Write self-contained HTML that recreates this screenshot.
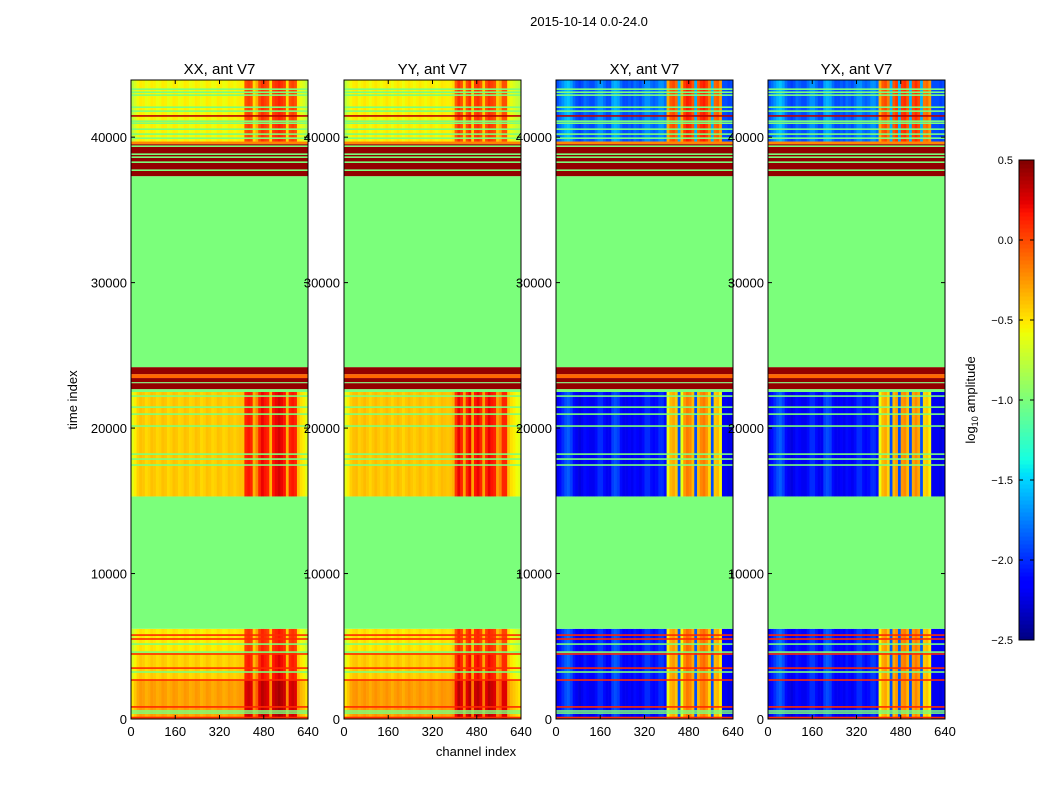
<!DOCTYPE html>
<html><head><meta charset="utf-8"><style>
body{margin:0;background:#fff;}
svg text{font-family:"Liberation Sans",sans-serif;}
</style></head><body>
<svg id="fig" width="1050" height="800" xmlns="http://www.w3.org/2000/svg">
<rect width="1050" height="800" fill="#fff"/>
<text x="589" y="26" font-size="13" text-anchor="middle">2015-10-14 0.0-24.0</text>
<text transform="translate(77,400) rotate(-90)" font-size="13" text-anchor="middle">time index</text>
<text x="476" y="756" font-size="13" text-anchor="middle">channel index</text>
<g id="panels"></g>
<g id="cbar"></g>
<text transform="translate(975,400) rotate(-90)" font-size="13" text-anchor="middle">log<tspan font-size="9" dy="3">10</tspan><tspan dy="-3"> amplitude</tspan></text>
</svg>
<script>
const panelTitles=["XX, ant V7","YY, ant V7","XY, ant V7","YX, ant V7"];
const panelKinds=["par","par","cross","cross"];
const xTicks=[0,160,320,480,640];
const yTicks=[0,10000,20000,30000,40000];
const cbTicks=[0.5,0.0,-0.5,-1.0,-1.5,-2.0,-2.5];
// channel profiles: 64 groups of 10 channels (log10 amplitude)
const profXX=[-0.65,-0.55,-0.45,-0.4,-0.42,-0.48,-0.45,-0.4,-0.42,-0.47,-0.45,-0.4,-0.42,-0.48,-0.45,-0.4,-0.42,-0.47,-0.45,-0.4,-0.42,-0.47,-0.45,-0.4,-0.42,-0.48,-0.45,-0.4,-0.42,-0.47,-0.45,-0.4,-0.42,-0.47,-0.45,-0.4,-0.42,-0.45,-0.42,-0.4,-0.4,0.1,0.15,0.1,-0.35,-0.2,0.1,0.2,0.15,0.1,-0.35,0.15,0.2,0.25,0.2,0.15,-0.35,0.1,0.15,0.1,-0.4,-0.5,-0.55,-0.65];
const profYY=[-0.65,-0.55,-0.45,-0.4,-0.38,-0.45,-0.42,-0.38,-0.42,-0.47,-0.42,-0.38,-0.42,-0.45,-0.42,-0.38,-0.42,-0.47,-0.42,-0.38,-0.42,-0.47,-0.42,-0.38,-0.42,-0.45,-0.42,-0.38,-0.42,-0.45,-0.42,-0.38,-0.42,-0.45,-0.42,-0.38,-0.4,-0.42,-0.4,-0.35,0.05,0.2,0.1,-0.3,0.1,0.2,-0.3,0.15,0.2,0.1,-0.3,0.1,0.2,0.15,0.1,-0.3,-0.2,0.1,0.1,-0.4,-0.5,-0.55,-0.6,-0.65];
const profXY=[-2.2,-2.1,-2.0,-1.9,-1.85,-1.95,-2.1,-2.2,-2.25,-2.2,-2.1,-2.15,-2.2,-2.2,-2.1,-2.0,-2.0,-2.1,-2.2,-2.2,-1.95,-1.9,-1.95,-2.1,-2.2,-2.2,-2.15,-2.2,-2.1,-2.15,-2.2,-2.1,-2.0,-2.0,-2.1,-2.15,-2.1,-2.0,-2.0,-2.1,-0.6,-0.35,-0.3,-0.4,-1.9,-0.6,-0.25,-0.15,-0.2,-0.35,-1.9,-0.35,-0.2,-0.15,-0.25,-0.45,-1.9,-0.4,-0.35,-0.55,-2.2,-2.2,-2.25,-2.2];
const profYX=[-2.2,-2.1,-2.0,-1.9,-1.85,-1.95,-2.1,-2.2,-2.25,-2.2,-2.1,-2.15,-2.2,-2.2,-2.1,-2.0,-2.0,-2.1,-2.2,-2.2,-1.95,-1.9,-1.95,-2.1,-2.2,-2.2,-2.15,-2.2,-2.1,-2.15,-2.2,-2.1,-2.0,-2.0,-2.1,-2.15,-2.1,-2.0,-2.0,-2.1,-0.6,-0.35,-0.3,-0.45,-1.9,-0.35,-0.25,-1.9,-0.25,-0.2,-0.35,-1.9,-0.3,-0.2,-0.3,-1.9,-0.45,-0.4,-0.55,-2.2,-2.2,-2.2,-2.25,-2.2];
const profiles=[profXX,profYY,profXY,profYX];
// time bands
const bandStart=[0,2700,4470,6200,15300,22480,22680,23090,23160,23440,23710,24190,37320,39520,39700];
const bandEnd=[2700,4470,6200,15300,22480,22680,23090,23160,23440,23710,24190,37320,39520,39700,43930];
const bandType=["D","D","D","U","D","U","U","U","U","U","U","U","U","U","D"];
const bandLevel=[0,0,0,-1.0,0,-1.0,0.45,-1.0,0.45,-0.1,0.45,-1.0,0.45,-0.2,0];
const bandOffPar=[0.15,0.0,-0.08,0,0.02,0,0,0,0,0,0,0,0,0,-0.12];
const bandOffCross=[0.0,0.05,0.05,0,0.0,0,0,0,0,0,0,0,0,0,0.3];
// horizontal line overlays
const lineTimes=[410,550,3230,4600,5150,17460,17870,18210,20140,20960,21440,22200,37730,38280,38625,38830,39380,39930,40210,40550,40960,41100,41790,42060,42890,43090,43300,100,830,2680,3500,4470,5500,5770,41460];
const lineValues=[-1,-1,-1,-1,-1,-1,-1,-1,-1,-1,-1,-1,-1,-1,-1,-1,-1,-1,-1,-1,-1,-1,-1,-1,-1,-1,-1,0.1,0.1,0.1,0.1,0.1,0.1,0.1,0.35];

const NS="http://www.w3.org/2000/svg";
const panelX=[131,344,556,768], PW=177, PTOP=80, PBOT=719, TMAX=43930, CMAX=640, VMIN=-2.5, VMAX=0.5;
function yOf(t){return PBOT-(t/TMAX)*(PBOT-PTOP);}
function xOf(p,c){return panelX[p]+c/CMAX*PW;}
function interp(pts,v){for(let i=1;i<pts.length;i++){if(v<=pts[i][0]){const a=pts[i-1],b=pts[i];return a[1]+(b[1]-a[1])*(v-a[0])/(b[0]-a[0]);}}return pts[pts.length-1][1];}
function jet(val){let v=(val-VMIN)/(VMAX-VMIN);v=Math.max(0,Math.min(1,v));
const r=interp([[0,0],[0.35,0],[0.66,1],[0.89,1],[1,0.5]],v);
const g=interp([[0,0],[0.125,0],[0.375,1],[0.64,1],[0.91,0],[1,0]],v);
const b=interp([[0,0.5],[0.11,1],[0.34,1],[0.65,0],[1,0]],v);
return `rgb(${Math.round(r*255)},${Math.round(g*255)},${Math.round(b*255)})`;}
function mk(tag,attrs,parent){const e=document.createElementNS(NS,tag);for(const k in attrs)e.setAttribute(k,attrs[k]);parent.appendChild(e);return e;}
const root=document.getElementById('panels');
for(let p=0;p<4;p++){
  const g=mk('g',{},root);
  
  
  const prof=profiles[p], cross=panelKinds[p]==="cross";
  for(let b=0;b<bandStart.length;b++){
    const y1=yOf(bandEnd[b]), y2=yOf(bandStart[b]);
    if(bandType[b]==="U"){
      const r=mk('rect',{x:panelX[p],y:y1,width:PW,height:y2-y1,fill:jet(bandLevel[b])},g);
      
      
    } else {
      const off=cross?bandOffCross[b]:bandOffPar[b];
      for(let c=0;c<prof.length;c++){
        const x1=xOf(p,c*10), x2=xOf(p,(c+1)*10);
        const r=mk('rect',{x:x1,y:y1,width:x2-x1+0.3,height:y2-y1,fill:jet(prof[c]+off)},g);
        
        
      }
    }
  }
  for(let i=0;i<lineTimes.length;i++){
    const y=yOf(lineTimes[i]);
    const r=mk('rect',{x:panelX[p],y:y-0.8,width:PW,height:1.6,fill:jet(lineValues[i])},g);
    
    
  }
  const fr=mk('rect',{x:panelX[p],y:PTOP,width:PW,height:PBOT-PTOP,fill:'none',stroke:'#000','stroke-width':1},g);
  
  
  const tt=mk('text',{x:panelX[p]+PW/2,y:74,'font-size':15,'text-anchor':'middle'},g);
  tt.textContent=panelTitles[p];
  
  
  for(const t of xTicks){const x=xOf(p,t);
    mk('line',{x1:x,x2:x,y1:PBOT,y2:PBOT-4,stroke:'#000'},g);
    mk('line',{x1:x,x2:x,y1:PTOP,y2:PTOP+4,stroke:'#000'},g);
    const l=mk('text',{x:x,y:PBOT+17,'font-size':13,'text-anchor':'middle'},g);
    l.textContent=t;
    
    }
  for(const t of yTicks){const y=yOf(t);
    mk('line',{x1:panelX[p],x2:panelX[p]+4,y1:y,y2:y,stroke:'#000'},g);
    mk('line',{x1:panelX[p]+PW,x2:panelX[p]+PW-4,y1:y,y2:y,stroke:'#000'},g);
    const l=mk('text',{x:panelX[p]-4,y:y+5,'font-size':13,'text-anchor':'end'},g);
    l.textContent=t;
    
    }
}
// colorbar
const cb=document.getElementById('cbar');
const CX=1019,CW=15,CT=160,CB=640,N=120;
for(let i=0;i<N;i++){const v=VMIN+(VMAX-VMIN)*(i+0.5)/N;
  const y=CB-(i+1)*(CB-CT)/N;
  const r=mk('rect',{x:CX,y:y,width:CW,height:(CB-CT)/N+0.5,fill:jet(v)},cb);
  
  }
mk('rect',{x:CX,y:CT,width:CW,height:CB-CT,fill:'none',stroke:'#000'},cb);
for(const t of cbTicks){const y=CB-(t-VMIN)/(VMAX-VMIN)*(CB-CT);
  mk('line',{x1:CX,x2:CX+4,y1:y,y2:y,stroke:'#000'},cb);
  mk('line',{x1:CX+CW,x2:CX+CW-4,y1:y,y2:y,stroke:'#000'},cb);
  const l=mk('text',{x:1013,y:y+4,'font-size':11,'text-anchor':'end'},cb);
  l.textContent=t.toFixed(1).replace('-','\u2212');
  
  }
</script>
</body></html>
